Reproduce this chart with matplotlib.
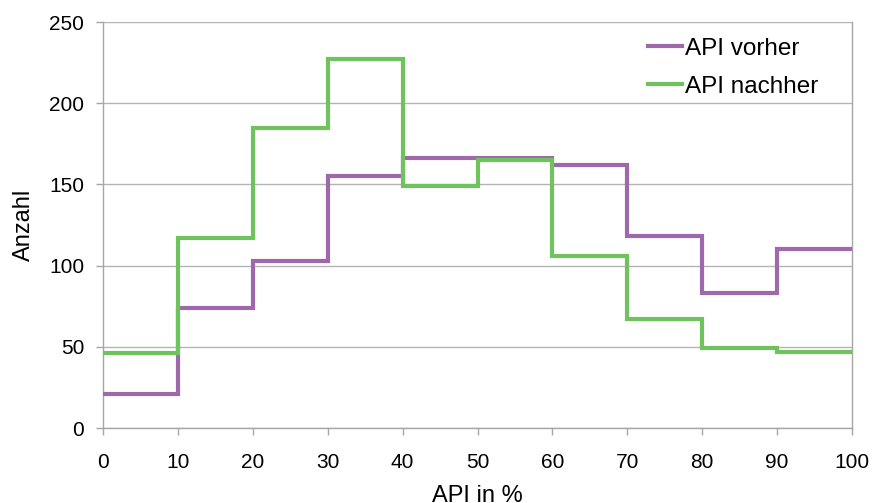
import matplotlib
matplotlib.use("Agg")
import matplotlib.pyplot as plt
import numpy as np

plt.rcParams['font.family'] = ['Liberation Sans', 'DejaVu Sans']

# Histogram bin edges (API in %) and counts per bin
bin_edges = [0, 10, 20, 30, 40, 50, 60, 70, 80, 90, 100]
api_vorher = [21, 74, 103, 155, 166, 166, 162, 118, 83, 110]
api_nachher = [46, 117, 185, 227, 149, 165, 106, 67, 49, 47]

x_ticks = [0, 10, 20, 30, 40, 50, 60, 70, 80, 90, 100]
y_ticks = [0, 50, 100, 150, 200, 250]

purple = '#9D69AB'
green = '#6EC35C'
axis_grey = '#A6A6A6'

fig = plt.figure(figsize=(8.75, 5.03), dpi=100)
ax = fig.add_axes([103 / 875, 1 - 428 / 503, (852 - 103) / 875, (428 - 22) / 503])

ax.stairs(api_vorher, bin_edges, baseline=None, color=purple, linewidth=3.0,
          label='API vorher', zorder=3)
ax.stairs(api_nachher, bin_edges, baseline=None, color=green, linewidth=3.0,
          label='API nachher', zorder=4)

ax.set_xlim(0, 100)
ax.set_ylim(0, 250)
ax.set_xticks(x_ticks)
ax.set_yticks(y_ticks)

ax.yaxis.grid(True, color='#B4B4B4', linewidth=1.0)
ax.set_axisbelow(True)

for side in ['left', 'bottom', 'right']:
    ax.spines[side].set_color(axis_grey)
    ax.spines[side].set_linewidth(1.0)
ax.spines['top'].set_visible(False)

ax.tick_params(axis='both', colors=axis_grey, labelcolor='black', labelsize=15,
               length=5, width=1.0, direction='out')
ax.tick_params(axis='x', pad=13)
ax.tick_params(axis='y', pad=8.5)

ax.set_ylabel('Anzahl', fontsize=17, labelpad=10.5)
ax.set_xlabel('API in %', fontsize=17, labelpad=9.5)

leg = ax.legend(loc='upper left', bbox_to_anchor=(648 / 875, 1 - 37.5 / 503),
                bbox_transform=fig.transFigure, frameon=False, fontsize=17.5,
                handlelength=1.4, handletextpad=0.12, labelspacing=0.66,
                borderpad=0, borderaxespad=0)
for line in leg.get_lines():
    line.set_linewidth(3.0)

fig.savefig('out.png', dpi=100)
